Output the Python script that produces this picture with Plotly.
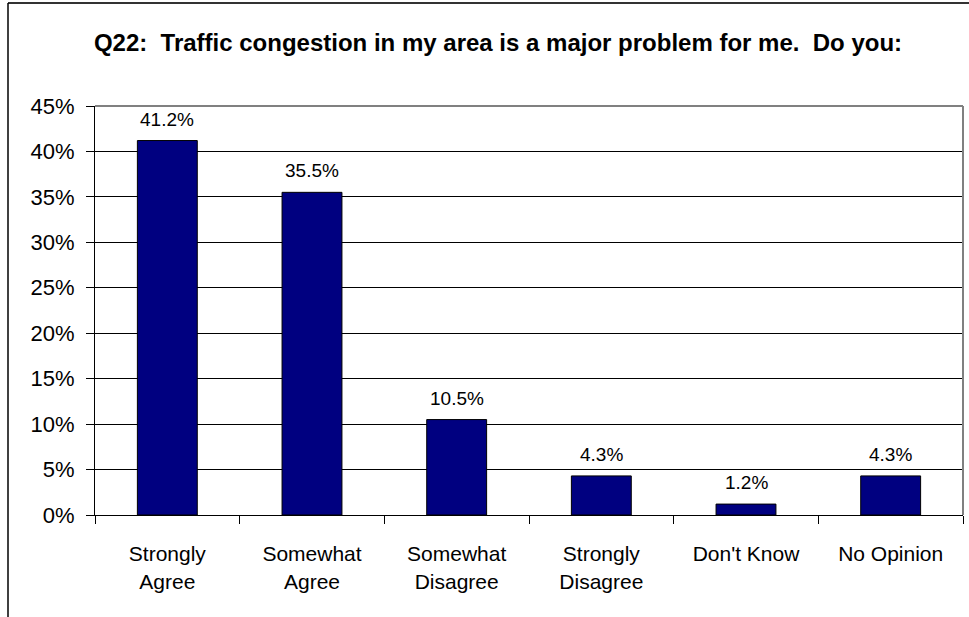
import plotly.graph_objects as go

categories = ["Strongly<br>Agree", "Somewhat<br>Agree", "Somewhat<br>Disagree",
              "Strongly<br>Disagree", "Don't Know", "No Opinion"]
values = [41.2, 35.5, 10.5, 4.3, 1.2, 4.3]
value_labels = ["41.2%", "35.5%", "10.5%", "4.3%", "1.2%", "4.3%"]
y_ticks = [0, 5, 10, 15, 20, 25, 30, 35, 40, 45]
y_tick_labels = ["0%", "5%", "10%", "15%", "20%", "25%", "30%", "35%", "40%", "45%"]
title_text = "Q22:\u00a0 Traffic congestion in my area is a major problem for me.\u00a0 Do you:"

FONT = "Liberation Sans, Arial, sans-serif"

fig = go.Figure()
fig.add_trace(go.Bar(
    x=categories, y=values,
    marker=dict(color="#000080", line=dict(color="black", width=1)),
    cliponaxis=False,
))

# value labels above bars, placed through the data axes
for cat, val, lab in zip(categories, values, value_labels):
    fig.add_annotation(x=cat, y=val, text=lab, showarrow=False,
                       yanchor="bottom", yshift=9,
                       font=dict(family=FONT, size=19, color="black"))

W, H = 969, 617
L, R, T, B = 95, 6, 106, 102
pw, ph = W - L - R, H - T - B

def px_x(p):
    return (p - L) / pw

def px_y(p):
    return (H - B - p) / ph

fig.update_layout(
    width=W, height=H,
    margin=dict(l=L, r=R, t=T, b=B, pad=0),
    paper_bgcolor="white", plot_bgcolor="white",
    bargap=0.586,
    showlegend=False,
    font=dict(family=FONT, color="black"),
    title=dict(text="<b>" + title_text + "</b>", x=498 / W, xanchor="center",
               y=1 - 43 / H, yanchor="middle",
               font=dict(family=FONT, size=24, color="black")),
    xaxis=dict(
        type="category", tickson="boundaries", ticks="outside", ticklen=8,
        tickcolor="black", showline=True, linecolor="black", linewidth=1,
        showgrid=False, tickfont=dict(family=FONT, size=21, color="black"),
        ticklabelstandoff=20,
    ),
    yaxis=dict(
        range=[0, 45], tickvals=y_ticks, ticktext=y_tick_labels,
        ticks="outside", ticklen=8, tickcolor="black",
        showline=True, linecolor="black", linewidth=1,
        showgrid=True, gridcolor="black", gridwidth=1, zeroline=False,
        tickfont=dict(family=FONT, size=22, color="black"),
        ticklabelstandoff=7,
    ),
    shapes=[
        # plot area top and right border (gray)
        dict(type="line", xref="paper", yref="paper", x0=0, x1=1, y0=1, y1=1,
             line=dict(color="#808080", width=2), layer="above"),
        dict(type="line", xref="paper", yref="paper", x0=1, x1=1, y0=0, y1=1,
             line=dict(color="#808080", width=2), layer="above"),
        # outer chart frame
        dict(type="line", xref="paper", yref="paper", x0=px_x(8), x1=px_x(975),
             y0=px_y(3), y1=px_y(3), line=dict(color="#333333", width=2)),
        dict(type="line", xref="paper", yref="paper", x0=px_x(8), x1=px_x(8),
             y0=px_y(3), y1=px_y(625), line=dict(color="black", width=1.5)),
    ],
)

fig.write_html("out.html", config={"displayModeBar": False},
               post_script="document.body.style.margin='0px';document.body.style.overflow='hidden';")
